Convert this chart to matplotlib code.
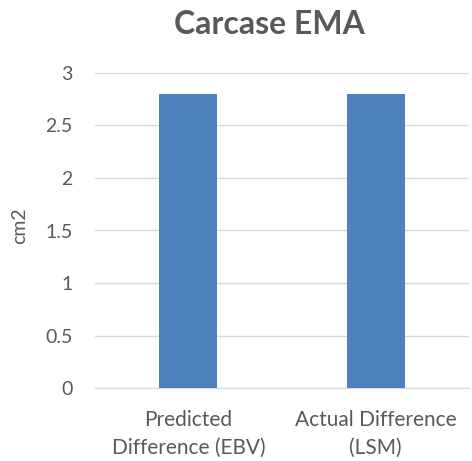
import matplotlib.pyplot as plt

categories = ['Predicted\nDifference (EBV)', 'Actual Difference\n(LSM)']
values = [2.8, 2.8]
yticks = [0, 0.5, 1, 1.5, 2, 2.5, 3]
ytick_labels = ['0', '0.5', '1', '1.5', '2', '2.5', '3']

text_color = '#595959'
plt.rcParams['font.family'] = ['Lato', 'DejaVu Sans']

fig = plt.figure(figsize=(4.72, 4.61), dpi=100)
ax = fig.add_axes([0.201, 0.158, 0.793, 0.684])

ax.bar(range(len(categories)), values, width=0.31, color='#4F81BD', zorder=3)
ax.set_xlim(-0.5, len(categories) - 0.5)
ax.set_ylim(0, 3)
ax.set_yticks(yticks)
ax.set_yticklabels(ytick_labels)
ax.set_xticks(range(len(categories)))
ax.set_xticklabels(categories, linespacing=1.45)

ax.yaxis.grid(True, color='#D9D9D9', linewidth=1, zorder=0)
for side in ['top', 'right', 'left']:
    ax.spines[side].set_visible(False)
ax.spines['bottom'].set_color('#D9D9D9')
ax.tick_params(axis='both', length=0, colors=text_color)
ax.tick_params(axis='y', pad=16, labelsize=14)
ax.tick_params(axis='x', pad=16, labelsize=15)

ax.set_ylabel('cm2', color=text_color, fontsize=14)
ax.yaxis.set_label_coords(-0.179, 0.514)

fig.text(0.570, 1 - 34 / 461, 'Carcase EMA', color=text_color, fontsize=23,
         fontweight='bold', ha='center', va='baseline')

fig.savefig('out.png', dpi=100)
